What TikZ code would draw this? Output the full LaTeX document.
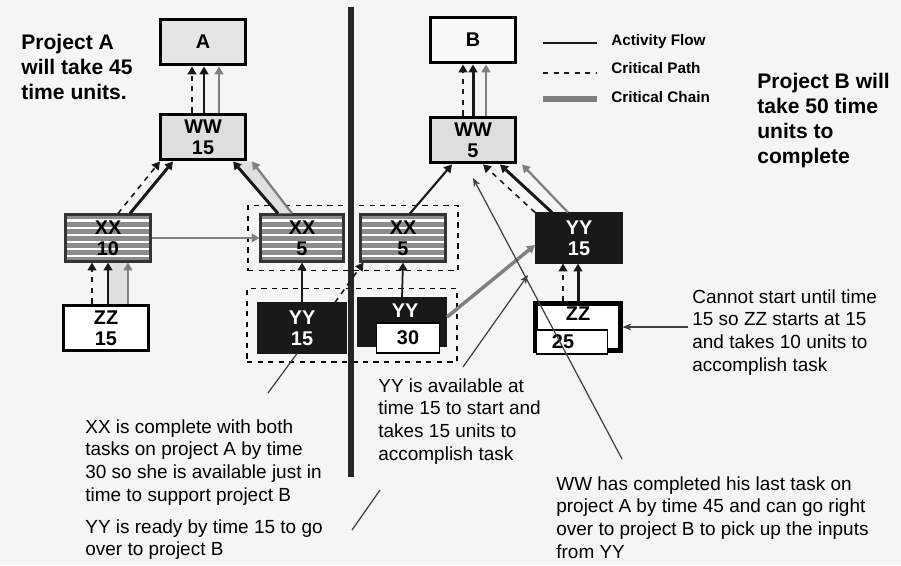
\documentclass[tikz,border=0pt]{standalone}
\usepackage{fontspec}
\setmainfont{Liberation Sans}
\usetikzlibrary{arrows.meta, positioning, calc, fit}
\newcommand\boxfont{\fontsize{11.3}{11.8}\selectfont\bfseries}
\newcommand\notefont{\fontsize{10.8}{13}\selectfont}
\newcommand\headfont{\fontsize{12}{14.2}\selectfont\bfseries}
\newcommand\keyfont{\fontsize{8.7}{10}\selectfont\bfseries}

\begin{document}
\begin{tikzpicture}[
    x=0.02cm, y=-0.02cm,
    >={Triangle[width=5pt,length=4.5pt]},
    task/.style={draw, line width=2.2pt, minimum width=1.7cm, minimum height=0.9cm,
                 align=center, inner sep=1pt, font=\boxfont},
    pale/.style={task, fill=black!10},
    plain/.style={task, fill=white},
    wwbox/.style={task, fill=black!13},
    striped/.style={draw=black!80, line width=1.2pt, fill=black!45,
                    minimum width=1.7cm, minimum height=0.94cm,
                    align=center, inner sep=1pt, font=\boxfont,
                    path picture={
                      \foreach \f in {0.12,0.27,0.42,0.57,0.72,0.87}
                        \draw[white, line width=1.3pt]
                          ($(path picture bounding box.south west)!\f!(path picture bounding box.north west)$)
                          -- ($(path picture bounding box.south east)!\f!(path picture bounding box.north east)$);
                    }},
    dark/.style={draw=black!90, fill=black!90, text=white, line width=1.2pt,
                 minimum width=1.76cm, minimum height=0.98cm,
                 align=center, inner sep=1pt, font=\boxfont},
    inbox/.style={draw, fill=white, line width=0.8pt, inner sep=0pt},
    group/.style={draw, dashed, line width=0.9pt, inner sep=0pt},
    flow/.style={->, line width=1.7pt, black!90},
    crit/.style={->, dashed, line width=0.9pt, black!90},
    chain/.style={->, line width=1.3pt, black!50},
    band/.style={fill=black!12},
    pointer/.style={-{Stealth[length=5pt,width=4pt]}, line width=0.7pt, black!75},
    note/.style={align=left, anchor=north west, inner sep=0pt, font=\notefont},
    head/.style={align=left, anchor=north west, inner sep=0pt, font=\headfont},
    key/.style={anchor=base west, inner sep=0pt, font=\keyfont}
  ]
  \fill[black!4] (0,0) rectangle (901,565);
  \useasboundingbox (0,0) rectangle (901,565);

  % project A
  \node[pale] (A) at (203,42) {A};
  \node[wwbox] (wwa) at (203,137) {WW\\15};
  \node[striped] (xx10) at (108,238) {XX\\10};
  \node[plain] (zz15) at (106,328) {ZZ\\15};
  \node[striped, minimum width=1.66cm] (xx5a) at (302,238) {XX\\5};
  \node[dark] (yy15a) at (302,328) {YY\\15};

  % project B
  \node[task, fill=white!97!black] (B) at (473,40) {B};
  \node[wwbox] (wwb) at (473,140) {WW\\5};
  \node[striped] (xx5b) at (403,238) {XX\\5};
  \node[dark, minimum height=0.96cm] (yy30) at (402,322) {};
  \node[font=\boxfont, text=white] at (405,311) {YY};
  \node[inbox, minimum width=1.26cm, minimum height=0.6cm, font=\boxfont] (yy30n) at (408,338) {30};
  \node[dark, minimum width=1.72cm] (yy15b) at (579,238) {YY\\15};
  \node[task, fill=white, line width=2.4pt, minimum height=0.94cm] (zz25) at (578,327) {};
  \node[font=\boxfont] at (578,314) {ZZ};
  \node[inbox, minimum width=1.42cm, minimum height=0.48cm] (zz25n) at (572,342) {};
  \node[font=\boxfont] at (563,342) {25};

  \node[group, inner xsep=0.23cm, inner ysep=0.16cm, fit=(xx5a)(xx5b)] (grpxx) {};
  \node[group, inner xsep=0.2cm, inner ysep=0.17cm, fit=(yy15a)(yy30)(yy30n)] (grpyy) {};

  \draw[line width=3.4pt, black!85] (351,7) -- (351,477);

  % connectors
  \fill[band] ($(zz15.north)+(2,0)$) rectangle ($(xx10.south)+(20,0)$);
  \fill[band] ($(xx5a.north)+(-24,0)$) -- ($(wwa.south)+(30,0)$)
    -- ($(wwa.south)+(49,0)$) -- ($(xx5a.north)+(-10,0)$) -- cycle;
  \draw[crit] ($(wwa.north)+(-11,0)$) -- ($(A.south)+(-11,0)$);
  \draw[flow] ($(wwa.north)+(1,0)$) -- ($(A.south)+(1,0)$);
  \draw[chain] ($(wwa.north)+(16,0)$) -- ($(A.south)+(16,0)$);
  \draw[crit] ($(xx10.north)+(10,0)$) -- ($(wwa.south)+(-43,0)$);
  \draw[flow] ($(xx10.north)+(22,0)$) -- ($(wwa.south)+(-30,0)$);
  \draw[flow] ($(xx5a.north)+(-24,0)$) -- ($(wwa.south)+(30,0)$);
  \draw[chain] ($(xx5a.north)+(-10,0)$) -- ($(wwa.south)+(49,0)$);
  \draw[crit] ($(zz15.north)+(-14,0)$) -- ($(xx10.south)+(-16,0)$);
  \draw[flow] ($(zz15.north)+(2,0)$) -- (xx10.south);
  \draw[chain] ($(zz15.north)+(22,0)$) -- ($(xx10.south)+(20,0)$);
  \draw[chain] (xx10.east) -- (xx5a.west);
  \draw[flow, line width=1pt] (yy15a.north) -- (xx5a.south);

  \draw[crit] ($(wwb.north)+(-10,0)$) -- ($(B.south)+(-10,0)$);
  \draw[flow] (wwb.north) -- (B.south);
  \draw[chain] ($(wwb.north)+(13,0)$) -- ($(B.south)+(13,0)$);
  \draw[flow, line width=1.2pt] ($(xx5b.north)+(7,0)$) -- ($(wwb.south)+(-21,0)$);
  \draw[crit] (yy15b.north west) -- ($(wwb.south)+(10,0)$);
  \draw[flow] ($(yy15b.north)+(-27,0)$) -- ($(wwb.south)+(27,0)$);
  \draw[chain] ($(yy15b.north)+(-11,0)$) -- ($(wwb.south)+(49,0)$);
  \draw[crit] ($(zz25.north)+(-15,0)$) -- ($(yy15b.south)+(-16,0)$);
  \draw[flow] (zz25.north) -- ($(yy15b.south)+(-1,0)$);
  \draw[flow, line width=1pt] (yy30.north) -- (xx5b.south);
  \draw[crit] ($(yy15a.north)+(33,0)$) -- ($(xx5b.south west)+(4,0)$);
  \draw[chain, line width=2pt] ($(yy30.east)+(0,-5)$) -- ($(yy15b.west)+(0,7)$);

  % legend
  \draw[line width=1.2pt, black!90] (543,43) -- (597,43);
  \draw[dashed, line width=0.9pt, black!90] (543,73) -- (597,73);
  \draw[line width=3.4pt, black!50] (543,99) -- (597,99);
  \node[key] at (611,45) {Activity Flow};
  \node[key] at (611,73) {Critical Path};
  \node[key] at (611,102) {Critical Chain};

  % notes
  \node[head] (headA) at (21,34) {Project A\\will take 45\\time units.};
  \node[head] (headB) at (757,73) {Project B will\\take 50 time\\units to\\complete};
  \node[note] (noteZZ) at (692,289) {Cannot start until time\\15 so ZZ starts at 15\\and takes 10 units to\\accomplish task};
  \node[note] (noteAvail) at (378,378) {YY is available at\\time 15 to start and\\takes 15 units to\\accomplish task};
  \node[note] (noteXX) at (85,419) {XX is complete with both\\tasks on project A by time\\30 so she is available just in\\time to support project B};
  \node[note] (noteReady) at (85,519) {YY is ready by time 15 to go\\over to project B};
  \node[note] (noteWW) at (556,476) {WW has completed his last task on\\project A by time 45 and can go right\\over to project B to pick up the inputs\\from YY};

  \coordinate (wwtail) at (622,459);
  \coordinate (wwtip) at (473,178);
  \coordinate (availtail) at (463,367);
  \coordinate (availtip) at (528,275);
  \coordinate (xxtail) at (268,393);
  \coordinate (readytail) at (352,530);
  \coordinate (readyend) at (380,490);
  \draw[pointer] (wwtail) -- (wwtip);
  \draw[pointer] (availtail) -- (availtip);
  \draw[pointer] ($(zz25.east -| noteZZ.west)+(-4,0)$) -- (zz25.east);
  \draw[pointer, -] (xxtail) -- ($(yy15a.south)+(-5,0)$);
  \draw[pointer, -] (readytail) -- (readyend);
\end{tikzpicture}
\end{document}
